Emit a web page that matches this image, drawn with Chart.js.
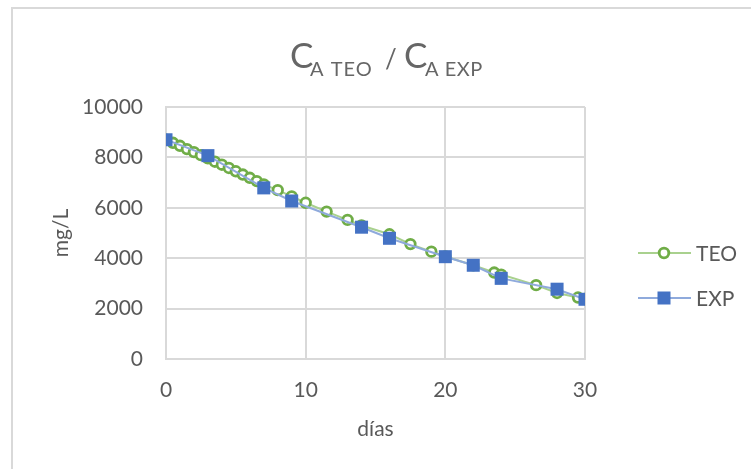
<!DOCTYPE html>
<html>
<head>
<meta charset="utf-8">
<script src="https://cdn.jsdelivr.net/npm/chart.js@4/dist/chart.umd.min.js"></script>
<style>
  html, body { margin: 0; padding: 0; background: #fff; }
  canvas { display: block; }
</style>
</head>
<body>
<canvas id="chart" width="751" height="469"></canvas>
<script>
// values
const teoDias = [0, 0.5, 1, 1.5, 2, 2.5, 3, 3.5, 4, 4.5, 5, 5.5, 6, 6.5, 7,
  8, 9, 10, 11.5, 13, 14, 16, 17.5, 19, 20, 22, 23.5, 24, 26.5, 28, 29.5, 30];
const teoConc = [8700, 8580, 8460, 8330, 8210, 8090, 7960, 7830, 7710, 7580, 7450, 7320, 7190, 7060, 6930,
  6700, 6450, 6200, 5850, 5520, 5300, 4950, 4560, 4260, 4070, 3720, 3430, 3350, 2930, 2620, 2440, 2380];

const expDias = [0, 3, 7, 9, 14, 16, 20, 22, 24, 28, 30];
const expConc = [8700, 8070, 6790, 6270, 5230, 4790, 4060, 3720, 3200, 2770, 2370];

const xTicks = [0, 10, 20, 30];
const yTicks = [0, 2000, 4000, 6000, 8000, 10000];

const FONT = 'Lato, "Open Sans", sans-serif';
const TEXT = '#595959';
const GRID = '#d9d9d9';
const GREEN = '#70ad47';
const BLUE = '#4472c4';

function points(xs, ys) {
  return xs.map((x, i) => ({ x: x, y: ys[i] }));
}

const frameAndTitle = {
  id: 'frameAndTitle',
  beforeDraw(chart) {
    const ctx = chart.ctx;
    ctx.save();
    ctx.fillStyle = '#fff';
    ctx.fillRect(0, 0, chart.width, chart.height);
    ctx.strokeStyle = GRID;
    ctx.lineWidth = 2;
    ctx.strokeRect(12, 8, 900, 600);
    ctx.restore();
  },
  afterDraw(chart) {
    const ctx = chart.ctx;
    ctx.save();
    ctx.fillStyle = '#666';
    ctx.textBaseline = 'alphabetic';
    ctx.textAlign = 'left';
    // title with subscripts
    ctx.font = '35px ' + FONT;
    ctx.fillText('C', 290, 68);
    ctx.font = '20px ' + FONT;
    ctx.letterSpacing = '1px';
    ctx.fillText('A TEO', 310, 76);
    ctx.letterSpacing = '0px';
    ctx.font = '26px ' + FONT;
    ctx.fillText('/', 385, 68);
    ctx.font = '35px ' + FONT;
    ctx.fillText('C', 404, 68);
    ctx.font = '20px ' + FONT;
    ctx.letterSpacing = '0.5px';
    ctx.fillText('A EXP', 425, 76);
    ctx.letterSpacing = '0px';

    // legend
    const rows = [
      { label: 'TEO', y: 253, line: '#a9d18e', color: GREEN, shape: 'circle' },
      { label: 'EXP', y: 298, line: '#8faadc', color: BLUE, shape: 'rect' }
    ];
    rows.forEach(r => {
      ctx.strokeStyle = r.line;
      ctx.lineWidth = 2;
      ctx.beginPath();
      ctx.moveTo(638, r.y);
      ctx.lineTo(691, r.y);
      ctx.stroke();
      if (r.shape === 'circle') {
        ctx.fillStyle = '#fff';
        ctx.strokeStyle = r.color;
        ctx.lineWidth = 2.8;
        ctx.beginPath();
        ctx.arc(664, r.y, 4.8, 0, Math.PI * 2);
        ctx.fill();
        ctx.stroke();
      } else {
        ctx.fillStyle = r.color;
        ctx.fillRect(657.5, r.y - 6.5, 13, 13);
      }
      ctx.fillStyle = TEXT;
      ctx.font = '21px ' + FONT;
      ctx.textBaseline = 'middle';
      ctx.fillText(r.label, 696, r.y + 1);
    });
    ctx.restore();
  }
};

new Chart(document.getElementById('chart'), {
  type: 'line',
  data: {
    datasets: [
      {
        label: 'TEO',
        data: points(teoDias, teoConc),
        borderColor: '#a9d18e',
        borderWidth: 2,
        pointStyle: 'circle',
        pointRadius: 4.8,
        pointBorderWidth: 2.8,
        pointBorderColor: GREEN,
        pointBackgroundColor: '#fff',
        tension: 0,
        order: 2
      },
      {
        label: 'EXP',
        data: points(expDias, expConc),
        borderColor: '#8faadc',
        borderWidth: 2,
        pointStyle: 'rect',
        pointRadius: 9.2,
        pointBorderWidth: 0,
        pointBackgroundColor: BLUE,
        tension: 0,
        order: 1
      }
    ]
  },
  options: {
    responsive: false,
    devicePixelRatio: 1,
    animation: false,
    layout: { padding: { left: 0, top: 107, right: 166, bottom: 0 } },
    plugins: {
      legend: { display: false },
      title: { display: false },
      tooltip: { enabled: false }
    },
    scales: {
      x: {
        type: 'linear',
        min: 0,
        max: 30,
        afterBuildTicks: s => { s.ticks = xTicks.map(v => ({ value: v })); },
        afterFit: s => { s.height = 110; },
        grid: { color: GRID, lineWidth: 2, drawTicks: false },
        border: { color: GRID, width: 2 },
        ticks: { color: TEXT, font: { family: FONT, size: 21 }, padding: 19, maxRotation: 0 },
        title: { display: true, text: 'días', color: TEXT, font: { family: FONT, size: 21 }, padding: { top: 0, bottom: 27 } }
      },
      y: {
        min: 0,
        max: 10000,
        afterBuildTicks: s => { s.ticks = yTicks.map(v => ({ value: v })); },
        afterFit: s => { s.width = 166; },
        grid: { color: GRID, lineWidth: 2, drawTicks: false },
        border: { color: GRID, width: 2 },
        ticks: { color: TEXT, font: { family: FONT, size: 21 }, padding: 23, callback: v => String(v) },
        title: { display: true, text: 'mg/L', color: TEXT, font: { family: FONT, size: 21 }, padding: { top: 49, bottom: 0 } }
      }
    }
  },
  plugins: [frameAndTitle]
});
</script>
</body>
</html>
